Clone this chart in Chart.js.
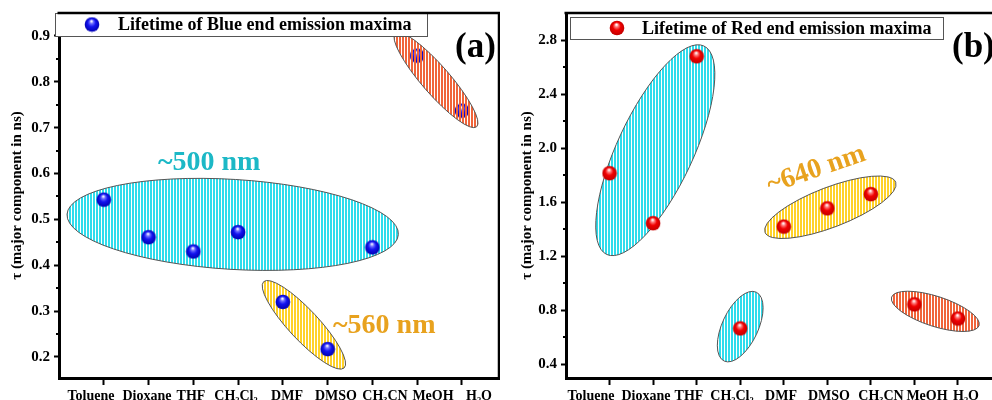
<!DOCTYPE html>
<html>
<head>
<meta charset="utf-8">
<script src="https://cdn.jsdelivr.net/npm/chart.js@4/dist/chart.umd.min.js"></script>
<style>
  html, body { margin: 0; padding: 0; background: #fff; overflow: hidden; width: 992px; height: 400px; }
  #panelA { position: absolute; left: 0; top: 0; }
  #panelB { position: absolute; left: 500px; top: 0; }
</style>
</head>
<body>
<canvas id="panelA" width="500" height="400"></canvas>
<canvas id="panelB" width="495" height="400"></canvas>
<script>
// solvents on the x axis (position 1..9)
const solvents = ['Toluene', 'Dioxane', 'THF', 'CH₂Cl₂', 'DMF', 'DMSO', 'CH₃CN', 'MeOH', 'H₂O'];
const solventPos = [1, 2, 3, 4, 5, 6, 7, 8, 9];

// lifetimes (ns)
const blueLifetime = [0.543, 0.461, 0.430, 0.472, 0.320, 0.217, 0.439, 0.857, 0.737];
const redLifetime = [1.815, 1.445, 2.680, 0.667, 1.420, 1.555, 1.660, 0.845, 0.740];

// y tick labels
const blueTicks = [0.2, 0.3, 0.4, 0.5, 0.6, 0.7, 0.8, 0.9];
const blueMinor = [0.25, 0.35, 0.45, 0.55, 0.65, 0.75, 0.85];
const redTicks = [0.4, 0.8, 1.2, 1.6, 2.0, 2.4, 2.8];
const redMinor = [0.6, 1.0, 1.4, 1.8, 2.2, 2.6];

const SERIF = '"Liberation Serif", "Times New Roman", serif';
const CYAN = '#2fdcec', YELLOW = '#ffd22a', ORANGE = '#f0643a';

// shiny ball marker
function ball(light, mid, edge) {
  const c = document.createElement('canvas');
  c.width = 16; c.height = 16;
  const g = c.getContext('2d');
  const grad = g.createRadialGradient(7.5, 4.5, 0.5, 8, 8, 7.5);
  grad.addColorStop(0, '#ffffff');
  grad.addColorStop(0.2, light);
  grad.addColorStop(0.5, mid);
  grad.addColorStop(1, edge);
  g.fillStyle = grad;
  g.beginPath();
  g.arc(8, 8, 7.3, 0, Math.PI * 2);
  g.fill();
  return c;
}
const blueBall = ball('#7070ff', '#1414f0', '#0000b0');
const redBall = ball('#ff7a7a', '#f00000', '#c00000');

// vertical hatch used inside the group ellipses
function stripes(color, gap) {
  const c = document.createElement('canvas');
  c.width = 3; c.height = 1;
  const g = c.getContext('2d');
  g.fillStyle = color;
  g.fillRect(0, 0, 2, 1);
  if (gap) { g.fillStyle = gap; g.fillRect(2, 0, 1, 1); }
  return c;
}

function makeDecor(cfg) {
  function drawGroups(chart, list) {
    const ctx = chart.ctx, xs = chart.scales.x, ys = chart.scales.y;
    list.forEach(e => {
      ctx.save();
      ctx.beginPath();
      ctx.ellipse(xs.getPixelForValue(e.x), ys.getPixelForValue(e.y), e.rx, e.ry, e.rot * Math.PI / 180, 0, Math.PI * 2);
      ctx.fillStyle = ctx.createPattern(stripes(e.color, e.over ? null : '#ffffff'), 'repeat');
      ctx.fill();
      ctx.lineWidth = 1;
      ctx.strokeStyle = '#555';
      ctx.stroke();
      ctx.restore();
    });
  }
  return {
    id: 'decor',
    beforeDatasetsDraw(chart) {
      drawGroups(chart, cfg.groups.filter(e => !e.over));
    },
    afterDatasetsDraw(chart) {
      const ctx = chart.ctx, area = chart.chartArea;
      const xs = chart.scales.x, ys = chart.scales.y;
      drawGroups(chart, cfg.groups.filter(e => e.over));

      // minor ticks on y
      ctx.save();
      ctx.strokeStyle = '#000';
      ctx.lineWidth = 2;
      cfg.minor.forEach(v => {
        const py = Math.round(ys.getPixelForValue(v));
        ctx.beginPath();
        ctx.moveTo(area.left - 3, py);
        ctx.lineTo(area.left, py);
        ctx.stroke();
      });

      // group labels
      cfg.notes.forEach(n => {
        ctx.save();
        ctx.translate(xs.getPixelForValue(n.x), ys.getPixelForValue(n.y));
        ctx.rotate((n.rot || 0) * Math.PI / 180);
        ctx.font = 'bold 28px ' + SERIF;
        ctx.fillStyle = n.color;
        ctx.textAlign = 'left';
        ctx.textBaseline = 'alphabetic';
        ctx.fillText(n.text, 0, 0);
        ctx.restore();
      });

      // legend box
      const L = cfg.legend;
      ctx.fillStyle = '#fff';
      ctx.fillRect(L.x, L.y, L.w, L.h);
      ctx.strokeStyle = '#555';
      ctx.lineWidth = 1;
      ctx.strokeRect(L.x + 0.5, L.y + 0.5, L.w, L.h);
      ctx.drawImage(cfg.marker, L.bx - 8, L.y + L.h / 2 - 8);
      ctx.font = 'bold 18px ' + SERIF;
      ctx.fillStyle = '#000';
      ctx.textBaseline = 'middle';
      ctx.textAlign = 'left';
      ctx.fillText(chart.data.datasets[0].label, L.tx, L.y + L.h / 2 + 1);

      // frame top and right
      ctx.strokeStyle = '#000';
      ctx.lineWidth = 2.5;
      ctx.beginPath();
      ctx.moveTo(area.left - 1.5, area.top);
      ctx.lineTo(area.right - 1, area.top);
      ctx.lineTo(area.right - 1, area.bottom);
      ctx.stroke();

      // panel letter
      ctx.font = 'bold 35px ' + SERIF;
      ctx.fillStyle = '#000';
      ctx.textBaseline = 'alphabetic';
      ctx.fillText(cfg.letter, cfg.letterX, 57);
      ctx.restore();
    }
  };
}

function noPad(s) { s.paddingLeft = 0; s.paddingRight = 0; }

function makePanel(id, o) {
  new Chart(document.getElementById(id), {
    type: 'scatter',
    data: {
      datasets: [{
        label: o.label,
        data: solventPos.map((x, i) => ({ x: x, y: o.values[i] })),
        pointStyle: o.marker,
        pointRadius: 7,
        showLine: false
      }]
    },
    options: {
      responsive: false,
      animation: false,
      layout: { autoPadding: false, padding: { top: 13, left: 0, right: 0, bottom: 0 } },
      plugins: { legend: { display: false }, tooltip: { enabled: false } },
      scales: {
        x: {
          type: 'linear', position: 'bottom', weight: 0,
          min: 0, max: 9.85,
          afterBuildTicks: s => { s.ticks = solventPos.map(v => ({ value: v })); },
          afterFit: s => { s.height = 8; noPad(s); },
          ticks: { display: false },
          grid: { drawOnChartArea: false, drawTicks: true, tickLength: 7, tickWidth: 2, tickColor: '#000' },
          border: { display: true, width: 3, color: '#000' }
        },
        // solvent names sit a little off the tick marks in the original, so they get their own axis
        xl: {
          type: 'linear', position: 'bottom', weight: 1,
          min: 0, max: o.areaWidth,
          afterBuildTicks: s => { s.ticks = o.labelAt.map(v => ({ value: v })); },
          afterFit: s => { s.height = 14; noPad(s); },
          ticks: {
            callback: (v, i) => solvents[i],
            font: { family: SERIF, size: 14, weight: 'bold' },
            color: '#000', padding: 2, maxRotation: 0, autoSkip: false
          },
          grid: { display: false, drawTicks: false },
          border: { display: false }
        },
        y: {
          type: 'linear', position: 'left',
          min: o.yMin, max: o.yMax,
          afterBuildTicks: s => { s.ticks = o.ticks.map(v => ({ value: v })); },
          afterFit: s => { s.width = o.yWidth; },
          ticks: {
            callback: v => v.toFixed(1),
            font: { family: SERIF, size: 15, weight: 'bold' },
            color: '#000', padding: 4
          },
          grid: { drawOnChartArea: false, drawTicks: true, tickLength: 5, tickWidth: 2, tickColor: '#000' },
          border: { display: true, width: 3, color: '#000' },
          title: {
            display: true, text: 'τ (major component in ns)', color: '#000',
            font: { family: SERIF, size: 15, weight: 'bold' },
            padding: { top: o.titlePad, bottom: 0 }
          }
        }
      }
    },
    plugins: [makeDecor(o.decor)]
  });
}

makePanel('panelA', {
  label: 'Lifetime of Blue end emission maxima',
  values: blueLifetime, marker: blueBall,
  yMin: 0.154, yMax: 0.95, ticks: blueTicks, yWidth: 59, titlePad: 8,
  areaWidth: 441, labelAt: [32, 88, 132, 177, 228, 277, 326, 374, 420],
  decor: {
    minor: blueMinor, marker: blueBall, letter: '(a)', letterX: 455,
    legend: { x: 55, y: 13, w: 372, h: 23, bx: 92, tx: 118 },
    groups: [
      { x: 3.88, y: 0.489, rx: 166, ry: 45, rot: 3.5, color: CYAN },
      { x: 5.47, y: 0.270, rx: 59, ry: 15, rot: 47, color: YELLOW },
      { x: 8.42, y: 0.804, rx: 62, ry: 14, rot: 49, color: ORANGE, over: true }
    ],
    notes: [
      { text: '~500 nm', x: 2.21, y: 0.607, color: '#1cb8c6' },
      { text: '~560 nm', x: 6.12, y: 0.252, color: '#e8a21e' }
    ]
  }
});

makePanel('panelB', {
  label: 'Lifetime of Red end emission maxima',
  values: redLifetime, marker: redBall,
  yMin: 0.3, yMax: 3.0, ticks: redTicks, yWidth: 66, titlePad: 18,
  areaWidth: 429, labelAt: [25, 80, 123, 166, 215, 263, 315, 361, 400],
  decor: {
    minor: redMinor, marker: redBall, letter: '(b)', letterX: 452,
    legend: { x: 70, y: 17, w: 373, h: 22, bx: 117, tx: 142 },
    groups: [
      { x: 2.05, y: 1.985, rx: 115, ry: 38, rot: -65, color: CYAN },
      { x: 4.00, y: 0.680, rx: 38, ry: 18, rot: -65, color: CYAN },
      { x: 6.07, y: 1.563, rx: 70, ry: 20, rot: -21, color: YELLOW },
      { x: 8.48, y: 0.793, rx: 46, ry: 15, rot: 18, color: ORANGE }
    ],
    notes: [
      { text: '~640 nm', x: 4.69, y: 1.667, rot: -19, color: '#e8a21e' }
    ]
  }
});
</script>
</body>
</html>
